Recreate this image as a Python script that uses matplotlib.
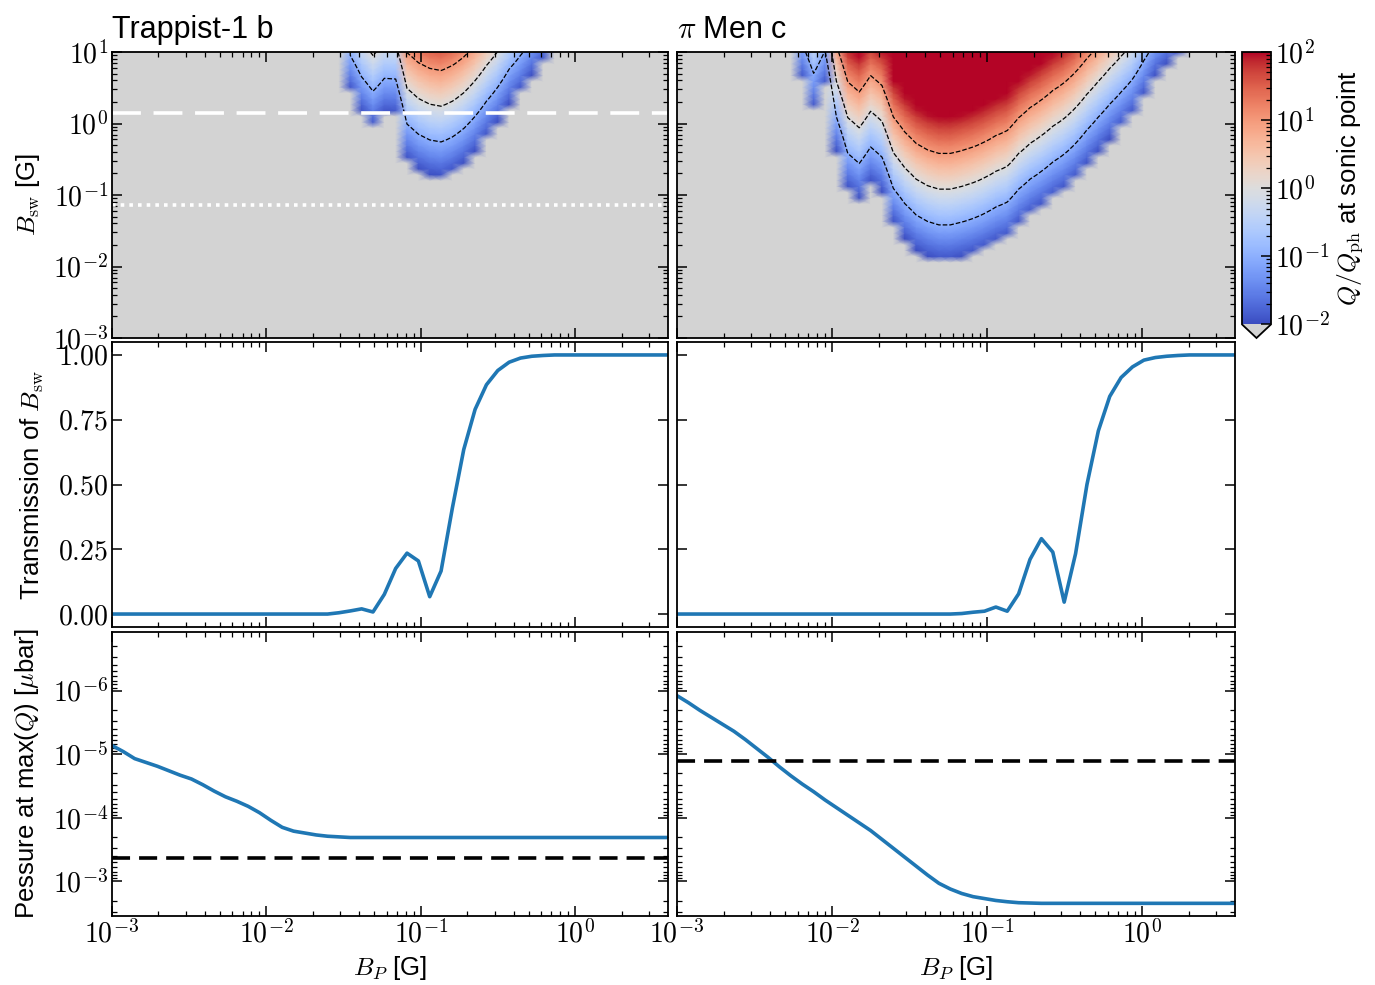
import numpy as np
import matplotlib
matplotlib.use('Agg')
import matplotlib.pyplot as plt
from matplotlib.colors import LogNorm
from matplotlib.ticker import LogLocator, FuncFormatter, NullFormatter

plt.rcParams['font.family'] = ['Liberation Sans', 'DejaVu Sans']
plt.rcParams['mathtext.fontset'] = 'cm'

# ---------------- data ----------------
titles = ['Trappist-1 b', r'$\pi$ Men c']
BP_LOG_MIN, BP_LOG_MAX, N_BP = -3.0, 0.6, 50
BSW_LOG_MIN, BSW_LOG_MAX, N_BSW = -3.0, 1.0, 50
nan = np.nan

# log10(B_sw) at which Q/Q_ph = 1, for each B_P column (nan: below colour scale)
trappist_logB1 = [nan] * 21 + [1.45, 1.15, 0.95, 1.13, 1.12, 0.49, 0.35, 0.27, 0.24, 0.31,
                               0.43, 0.60, 0.81, 1.01, 1.26, 1.45, 1.66, 1.85, 2.03] + [nan] * 10
pimen_logB1 = [nan] * 11 + [1.61, 1.20, 1.52, 0.59, 0.08, -0.06, 0.17, 0.03, -0.41, -0.62,
                            -0.78, -0.87, -0.92, -0.92, -0.88, -0.83, -0.76, -0.67, -0.60, -0.42,
                            -0.28, -0.17, -0.04, 0.07, 0.22, 0.41, 0.59, 0.77, 0.94, 1.12,
                            1.38, 1.65, 1.82, 1.96] + [nan] * 5

# transmission of B_sw
trappist_T = [0.0] * 20 + [0.005, 0.012, 0.02, 0.008, 0.076, 0.176, 0.235, 0.205, 0.067, 0.166,
                           0.41, 0.635, 0.79, 0.885, 0.94, 0.972, 0.988, 0.995, 0.998] + [1.0] * 11
pimen_T = [0.0] * 25 + [0.002, 0.007, 0.011, 0.027, 0.011, 0.078, 0.211, 0.291, 0.239, 0.046,
                        0.233, 0.50, 0.707, 0.84, 0.913, 0.954, 0.980, 0.990, 0.995, 0.998] + [1.0] * 5

# log10 of pressure at max(Q) [microbar]
trappist_logP = [-5.136, -5.04, -4.93, -4.87, -4.81, -4.74, -4.67, -4.61, -4.52, -4.42,
                 -4.33, -4.26, -4.18, -4.08, -3.96, -3.85, -3.79, -3.76, -3.73, -3.71,
                 -3.70] + [-3.69] * 29
pimen_logP = [-5.92, -5.81, -5.69, -5.58, -5.47, -5.36, -5.23, -5.09, -4.95, -4.80,
              -4.66, -4.53, -4.41, -4.28, -4.16, -4.04, -3.92, -3.80, -3.66, -3.52,
              -3.38, -3.24, -3.10, -2.97, -2.88, -2.81, -2.76, -2.73, -2.70, -2.68,
              -2.665, -2.66] + [-2.655] * 18
trappist_Pref = 4.35e-4
pimen_Pref = 1.3e-5
bsw_dashed = 1.40
bsw_dotted = 0.072

# ---------------- figure ----------------
fig = plt.figure(figsize=(13.75, 9.85), dpi=100)
W, H = 1375.0, 985.0

def rect(x0, y0, x1, y1):
    return [x0 / W, 1 - y1 / H, (x1 - x0) / W, (y1 - y0) / H]

cols = [(112, 668), (677, 1235)]
rows = [(52, 338), (342, 627), (632, 916)]

BP = np.logspace(BP_LOG_MIN, BP_LOG_MAX, N_BP)
BSW = np.logspace(BSW_LOG_MIN, BSW_LOG_MAX, N_BSW)

cmap = plt.get_cmap('coolwarm').copy()
cmap.set_under('lightgray')
norm = LogNorm(1e-2, 1e2)

TICK_FS = 20
LAB_FS = 18.5

logfmt = FuncFormatter(lambda v, p: rf'$10^{{{int(round(np.log10(v)))}}}$')
linfmt = FuncFormatter(lambda v, p: rf'${v:.2f}$')


def style(ax):
    ax.tick_params(which='both', direction='in', top=True, right=True, labelsize=TICK_FS)
    ax.tick_params(which='major', length=7, width=1.1, pad=3)
    ax.tick_params(which='minor', length=3.5, width=0.9)
    for s in ax.spines.values():
        s.set_linewidth(1.3)


def logx(ax, labels):
    ax.set_xscale('log')
    ax.set_xlim(BP[0], BP[-1])
    ax.xaxis.set_major_locator(LogLocator(base=10, numticks=10))
    ax.xaxis.set_minor_locator(LogLocator(base=10, subs=np.arange(2, 10), numticks=20))
    ax.xaxis.set_minor_formatter(NullFormatter())
    ax.xaxis.set_major_formatter(logfmt if labels else NullFormatter())


def logy(ax, labels):
    ax.set_yscale('log')
    ax.yaxis.set_major_locator(LogLocator(base=10, numticks=10))
    ax.yaxis.set_minor_locator(LogLocator(base=10, subs=np.arange(2, 10), numticks=20))
    ax.yaxis.set_minor_formatter(NullFormatter())
    ax.yaxis.set_major_formatter(logfmt if labels else NullFormatter())


logB1s = [trappist_logB1, pimen_logB1]
Ts = [trappist_T, pimen_T]
logPs = [trappist_logP, pimen_logP]
Prefs = [trappist_Pref, pimen_Pref]
left_axes = []

mesh = None
for c in range(2):
    x0, x1 = cols[c]
    # ---- heat map ----
    ax = fig.add_axes(rect(x0, rows[0][0], x1, rows[0][1]))
    b1 = np.array(logB1s[c], dtype=float)
    b1 = np.where(np.isnan(b1), 10.0, b1)
    logQ = 2.0 * (np.log10(BSW)[:, None] - b1[None, :])
    Q = 10.0 ** logQ
    mesh = ax.pcolormesh(BP, BSW, Q, shading='gouraud', cmap=cmap, norm=norm)
    ax.contour(BP, BSW, logQ, levels=[-1, 0, 1], colors='k', linestyles='--', linewidths=0.9)
    logx(ax, False)
    logy(ax, c == 0)
    ax.set_ylim(1e-3, 1e1)
    ax.set_facecolor('lightgray')
    if c == 0:
        ax.set_ylabel(r'$B_{\rm sw}$ [G]', fontsize=LAB_FS, labelpad=8)
        ax.axhline(bsw_dashed, color='white', ls=(0, (8, 3.5)), lw=2.6)
        ax.axhline(bsw_dotted, color='white', ls=(0, (1, 1.4)), lw=2.6)
        left_axes.append(ax)
    ax.set_title(titles[c], loc='left', fontsize=22, pad=10)
    style(ax)

    # ---- transmission ----
    ax = fig.add_axes(rect(x0, rows[1][0], x1, rows[1][1]))
    ax.plot(BP, Ts[c], color='#1f77b4', lw=2.6)
    logx(ax, False)
    ax.set_ylim(-0.05, 1.05)
    ax.set_yticks([0, 0.25, 0.5, 0.75, 1.0])
    if c == 0:
        ax.yaxis.set_major_formatter(linfmt)
        ax.set_ylabel(r'Transmission of $B_{\rm sw}$', fontsize=LAB_FS, labelpad=8)
        left_axes.append(ax)
    else:
        ax.yaxis.set_major_formatter(NullFormatter())
    style(ax)

    # ---- pressure ----
    ax = fig.add_axes(rect(x0, rows[2][0], x1, rows[2][1]))
    ax.plot(BP, 10.0 ** np.array(logPs[c]), color='#1f77b4', lw=2.6)
    ax.axhline(Prefs[c], color='k', ls=(0, (5, 2.5)), lw=2.6)
    logx(ax, True)
    logy(ax, c == 0)
    ax.set_ylim(3.5e-3, 1.2e-7)
    ax.set_xlabel(r'$B_P$ [G]', fontsize=LAB_FS)
    if c == 0:
        ax.set_ylabel(r'Pessure at max($Q$) [$\mu$bar]', fontsize=LAB_FS, labelpad=8)
        left_axes.append(ax)
    style(ax)

# colorbar
cax = fig.add_axes(rect(1242, 52, 1271, 338))
cb = fig.colorbar(mesh, cax=cax, extend='min')
cb.set_label(r'$Q/Q_{\rm ph}$ at sonic point', fontsize=LAB_FS)
cax.yaxis.set_major_locator(LogLocator(base=10, numticks=10))
cax.yaxis.set_minor_locator(LogLocator(base=10, subs=np.arange(2, 10), numticks=20))
cax.yaxis.set_major_formatter(logfmt)
cax.yaxis.set_minor_formatter(NullFormatter())
cax.tick_params(which='both', direction='in', labelsize=TICK_FS)
cax.tick_params(which='major', length=7, width=1.1, pad=3)
cax.tick_params(which='minor', length=3.5, width=0.9)
cb.outline.set_linewidth(1.3)

fig.align_ylabels(left_axes)

fig.savefig('out.png', dpi=100)
